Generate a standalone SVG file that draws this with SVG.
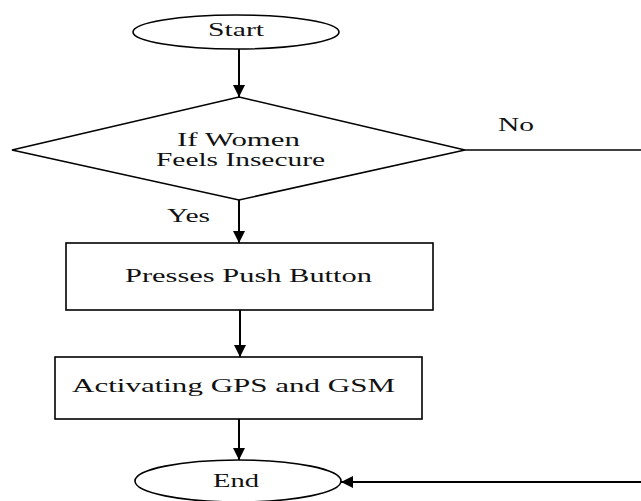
<svg xmlns="http://www.w3.org/2000/svg" width="641" height="501" viewBox="0 0 641 501">
<style>
.shape{fill:#fff;stroke:#000;stroke-width:1.6}
.t{font-family:"Liberation Serif","Times New Roman",serif;font-size:18px;fill:#111}
.c{stroke:#000;stroke-width:2;fill:none}
.l{stroke:#000;stroke-width:1.6;fill:none}
</style>
<defs>
<marker id="ah" viewBox="0 0 12 12" refX="12" refY="6" markerWidth="12" markerHeight="12" markerUnits="userSpaceOnUse" orient="auto">
<path d="M0,0 L12,6 L0,12 z" fill="#000"/>
</marker>
</defs>
<rect width="641" height="501" fill="#fff"/>
<g id="connectors">
<line class="c" x1="239" y1="49" x2="239" y2="97" marker-end="url(#ah)"/>
<line class="c" x1="239" y1="200" x2="239" y2="243" marker-end="url(#ah)"/>
<line class="c" x1="240" y1="310" x2="240" y2="357" marker-end="url(#ah)"/>
<line class="c" x1="239" y1="419" x2="239" y2="460" marker-end="url(#ah)"/>
<line class="l" x1="465" y1="150" x2="641" y2="150"/>
<line class="c" x1="641" y1="482" x2="341" y2="482" marker-end="url(#ah)"/>
<text class="t" x="498" y="131" textLength="36" lengthAdjust="spacingAndGlyphs">No</text>
<text class="t" x="167" y="222" textLength="43" lengthAdjust="spacingAndGlyphs">Yes</text>
</g>
<g id="start">
<ellipse class="shape" cx="236" cy="32" rx="103" ry="17"/>
<text class="t" x="208" y="36" textLength="56" lengthAdjust="spacingAndGlyphs">Start</text>
</g>
<g id="decision">
<polygon class="shape" points="239,97 465,150 239,200 12,150"/>
<text class="t" x="177" y="146" textLength="123" lengthAdjust="spacingAndGlyphs">If Women</text>
<text class="t" x="156" y="166" textLength="169" lengthAdjust="spacingAndGlyphs">Feels Insecure</text>
</g>
<g id="press">
<rect class="shape" x="66" y="243" width="367" height="67"/>
<text class="t" x="125" y="282" textLength="247" lengthAdjust="spacingAndGlyphs">Presses Push Button</text>
</g>
<g id="activate">
<rect class="shape" x="55" y="357" width="367" height="62"/>
<text class="t" x="72" y="392" textLength="323" lengthAdjust="spacingAndGlyphs">Activating GPS and GSM</text>
</g>
<g id="end">
<ellipse class="shape" cx="238" cy="481" rx="103" ry="21"/>
<text class="t" x="213" y="487" textLength="46" lengthAdjust="spacingAndGlyphs">End</text>
</g>
</svg>
